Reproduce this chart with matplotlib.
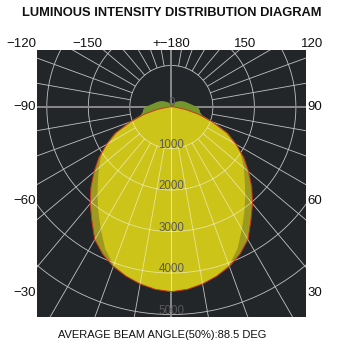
import numpy as np
import matplotlib
matplotlib.use("Agg")
import matplotlib.pyplot as plt
from matplotlib.patches import Polygon
from matplotlib.collections import LineCollection

plt.rcParams['font.family'] = ['Liberation Sans', 'DejaVu Sans']

# angle from nadir (deg), one half of the symmetric curves
angles = [0, 5, 10, 15, 20, 25, 30, 35, 40, 45, 50, 55, 60, 65, 70, 75, 80, 85, 90,
          95, 100, 105, 110, 115, 120, 125, 130, 135, 140, 145, 150, 155, 160, 165, 170, 175, 180]
# red outlined plane (cd)
plane_a = [4450, 4410, 4330, 4220, 4090, 3910, 3690, 3340, 3040, 2740, 2430, 2130, 1800, 1470, 1050, 680, 350, 120, 25,
           0, 0, 0, 0, 0, 0, 0, 0, 0, 0, 0, 0, 0, 0, 0, 0, 0, 0]
# green plane (cd)
plane_b = [4450, 4410, 4330, 4210, 4060, 3770, 3400, 3070, 2770, 2500, 2280, 2060, 1830, 1510, 1100, 770, 700, 680, 630,
           520, 450, 400, 360, 320, 285, 245, 210, 180, 155, 130, 112, 100, 92, 90, 88, 88, 88]

ring_values = [0, 1000, 2000, 3000, 4000, 5000]
ray_step = 10
top_labels = ['\u2212120', '\u2212150', '+\u2212180', '150', '120']
left_labels = ['\u221290', '\u221260', '\u221230']
right_labels = ['90', '60', '30']
title = 'LUMINOUS INTENSITY DISTRIBUTION DIAGRAM'
footer = 'AVERAGE BEAM ANGLE(50%):88.5 DEG'


def to_xy(ang_half, val_half):
    a = np.array(ang_half, dtype=float)
    v = np.array(val_half, dtype=float)
    th = np.concatenate([-a[::-1], a[1:]])
    r = np.concatenate([v[::-1], v[1:]])
    t = np.deg2rad(th)
    return np.column_stack([r * np.sin(t), -r * np.cos(t)])


W, H = 339, 348
fig = plt.figure(figsize=(W / 100, H / 100), dpi=100)
fig.patch.set_facecolor('white')

# box in pixels: x 36.7..306, y 50..317.3
ax = fig.add_axes([36.7 / W, 1 - 317.3 / H, 269.3 / W, 267.3 / H])
ax.set_facecolor('#232629')
ax.set_xlim(-3244, 3244)
ax.set_ylim(-5067, 1373)
ax.set_xticks([])
ax.set_yticks([])
for s in ax.spines.values():
    s.set_visible(False)

# grid
thin = []
for ang in range(0, 360, ray_step):
    if ang % 90 == 0:
        continue
    t = np.deg2rad(ang)
    thin.append([(1000 * np.sin(t), -1000 * np.cos(t)), (8000 * np.sin(t), -8000 * np.cos(t))])
tt = np.linspace(0, 2 * np.pi, 361)
for v in ring_values[1:]:
    thin.append(np.column_stack([v * np.cos(tt), v * np.sin(tt)]))
thick = [[(-5000, 0), (5000, 0)], [(0, -7000), (0, 3000)]]

ax.add_collection(LineCollection(thin, colors='#c2c2c2', linewidths=0.6, zorder=1))
ax.add_collection(LineCollection(thick, colors='#8a8a8a', linewidths=1.4, zorder=1))

pa = to_xy(angles, plane_a)
pb = to_xy(angles, plane_b)

green = Polygon(pb, closed=True, facecolor='#74962c', edgecolor='none', zorder=2)
ax.add_patch(green)
olive = Polygon(pa, closed=True, facecolor='#9e9a20', edgecolor='none', zorder=3)
ax.add_patch(olive)
yellow = Polygon(pb, closed=True, facecolor='#cdc41a', edgecolor='none', zorder=4)
ax.add_patch(yellow)
yellow.set_clip_path(olive)

over_thin = LineCollection(thin, colors='white', linewidths=0.6, alpha=0.55, zorder=5)
over_thick = LineCollection(thick, colors='white', linewidths=0.8, alpha=0.55, zorder=5)
ax.add_collection(over_thin)
ax.add_collection(over_thick)
over_thin.set_clip_path(olive)
over_thick.set_clip_path(olive)

ax.add_patch(Polygon(pa, closed=True, facecolor='none', edgecolor='#c8381e', linewidth=0.7, zorder=6))

for v in ring_values:
    ax.text(0, -v + 85, str(v), ha='center', va='center', fontsize=8.3, color='#5a5a5a', zorder=7)

# angle labels
top_x = [21, 87.5, 171, 245, 312.5]
for lab, x in zip(top_labels, top_x):
    fig.text(x / W, 1 - 43.7 / H, lab, ha='center', va='center', fontsize=9.5, color='#111111')
side_y = [107.3, 201, 292.7]
for lab, y in zip(left_labels, side_y):
    fig.text(35.5 / W, 1 - y / H, lab, ha='right', va='center', fontsize=9.5, color='#111111')
for lab, y in zip(right_labels, side_y):
    fig.text(307 / W, 1 - y / H, lab, ha='left', va='center', fontsize=9.5, color='#111111')

fig.text(171.5 / W, 1 - 13 / H, title, ha='center', va='center', fontsize=9.3, fontweight='bold', color='#111111')
fig.text(161.7 / W, 1 - 335 / H, footer, ha='center', va='center', fontsize=8.0, color='#111111')

fig.savefig('out.png', dpi=100)
